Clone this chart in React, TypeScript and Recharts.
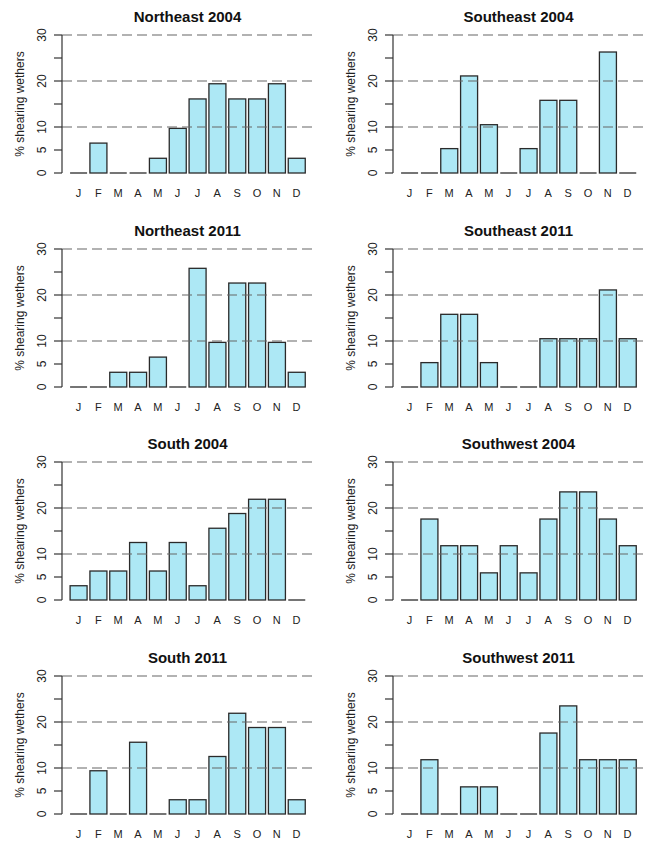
import React from 'react';
import { BarChart, Bar, XAxis, YAxis, ReferenceLine } from 'recharts';

const months = ['J', 'F', 'M', 'A', 'M', 'J', 'J', 'A', 'S', 'O', 'N', 'D'];
const yTicks = [0, 5, 10, 15, 20, 25, 30];
const yTickLabels = [0, 5, 10, 20, 30];
const gridValues = [10, 20, 30];

const northeast2004 = [0, 6.5, 0, 0, 3.2, 9.7, 16.1, 19.4, 16.1, 16.1, 19.4, 3.2];
const southeast2004 = [0, 0, 5.3, 21.1, 10.5, 0, 5.3, 15.8, 15.8, 0, 26.3, 0];
const northeast2011 = [0, 0, 3.2, 3.2, 6.5, 0, 25.8, 9.7, 22.6, 22.6, 9.7, 3.2];
const southeast2011 = [0, 5.3, 15.8, 15.8, 5.3, 0, 0, 10.5, 10.5, 10.5, 21.1, 10.5];
const south2004 = [3.1, 6.3, 6.3, 12.5, 6.3, 12.5, 3.1, 15.6, 18.8, 21.9, 21.9, 0];
const southwest2004 = [0, 17.6, 11.8, 11.8, 5.9, 11.8, 5.9, 17.6, 23.5, 23.5, 17.6, 11.8];
const south2011 = [0, 9.4, 0, 15.6, 0, 3.1, 3.1, 12.5, 21.9, 18.8, 18.8, 3.1];
const southwest2011 = [0, 11.8, 0, 5.9, 5.9, 0, 0, 17.6, 23.5, 11.8, 11.8, 11.8];

const panelTitles = [
  'Northeast 2004', 'Southeast 2004',
  'Northeast 2011', 'Southeast 2011',
  'South 2004', 'Southwest 2004',
  'South 2011', 'Southwest 2011',
];
const panelValues = [
  northeast2004, southeast2004,
  northeast2011, southeast2011,
  south2004, southwest2004,
  south2011, southwest2011,
];

const FONT = '"Liberation Sans", Arial, Helvetica, sans-serif';
const FILL = '#ADE8F5';
const EDGE = '#2a2a2a';
const TEXT = '#222';

const BarShape = (p: any) => {
  const { x, y, width, height } = p;
  if (!height || Math.abs(height) < 0.5) {
    return <line x1={x} x2={x + width} y1={y} y2={y} stroke={EDGE} strokeWidth={1.3} />;
  }
  return <rect x={x} y={y} width={width} height={height} fill={FILL} stroke={EDGE} strokeWidth={1.3} />;
};

const YTick = (p: any) => {
  const { x, y, payload } = p;
  if (!yTickLabels.includes(payload.value)) return <g />;
  return (
    <text
      x={x}
      y={y}
      transform={`rotate(-90 ${x} ${y})`}
      textAnchor="middle"
      dominantBaseline="central"
      fontSize={12}
      fontFamily={FONT}
      fill={TEXT}
    >
      {payload.value}
    </text>
  );
};

const YLabel = (p: any) => {
  const vb = p.viewBox || {};
  const cx = (vb.x || 0) + 20;
  const cy = (vb.y || 0) + (vb.height || 0) / 2;
  return (
    <text
      x={cx}
      y={cy}
      transform={`rotate(-90 ${cx} ${cy})`}
      textAnchor="middle"
      dominantBaseline="central"
      fontSize={12}
      fontFamily={FONT}
      fill={TEXT}
    >
      % shearing wethers
    </text>
  );
};

const PANEL_W = 330;
const COL_OFFSET = 331;
const ROW_STEP = 213.7;

function Panel({ title, values, left, top }: { title: string; values: number[]; left: number; top: number }) {
  const data = values.map((v, i) => ({ id: String(i), month: months[i], value: v }));
  return (
    <div style={{ position: 'absolute', left, top, width: PANEL_W, height: 205 }}>
      <div
        style={{
          position: 'absolute',
          left: 62,
          top: 8,
          width: 251,
          height: 18,
          lineHeight: '18px',
          textAlign: 'center',
          fontFamily: FONT,
          fontWeight: 'bold',
          fontSize: 15,
          color: '#111',
          whiteSpace: 'nowrap',
        }}
      >
        {title}
      </div>
      <BarChart
        width={PANEL_W}
        height={204}
        data={data}
        margin={{ top: 35, right: 17, bottom: 0, left: 0 }}
        barCategoryGap="8%"
      >
        <XAxis
          dataKey="id"
          tickFormatter={(v: any) => months[Number(v)]}
          axisLine={false}
          tickLine={false}
          tickSize={0}
          tickMargin={16}
          height={31}
          interval={0}
          padding={{ left: 6.5, right: 6.5 }}
          tick={{ fontSize: 11, fontFamily: FONT, fill: TEXT }}
        />
        <YAxis
          width={62}
          domain={[0, 30]}
          ticks={yTicks}
          interval={0}
          tickSize={8}
          tickMargin={12}
          axisLine={{ stroke: '#333', strokeWidth: 1.2 }}
          tickLine={{ stroke: '#333', strokeWidth: 1.2 }}
          tick={<YTick />}
          label={{ content: <YLabel /> }}
        />
        {gridValues.map((g) => (
          <ReferenceLine key={g} y={g} stroke="#666" strokeWidth={1.1} strokeDasharray="10 5" />
        ))}
        <Bar dataKey="value" isAnimationActive={false} shape={<BarShape />} />
      </BarChart>
    </div>
  );
}

export default function App() {
  return (
    <div style={{ position: 'absolute', left: 0, top: 0, width: 645, height: 841, background: '#fff', overflow: 'hidden' }}>
      {panelTitles.map((t, i) => (
        <Panel
          key={t}
          title={t}
          values={panelValues[i]}
          left={(i % 2) * COL_OFFSET}
          top={Math.floor(i / 2) * ROW_STEP}
        />
      ))}
    </div>
  );
}
